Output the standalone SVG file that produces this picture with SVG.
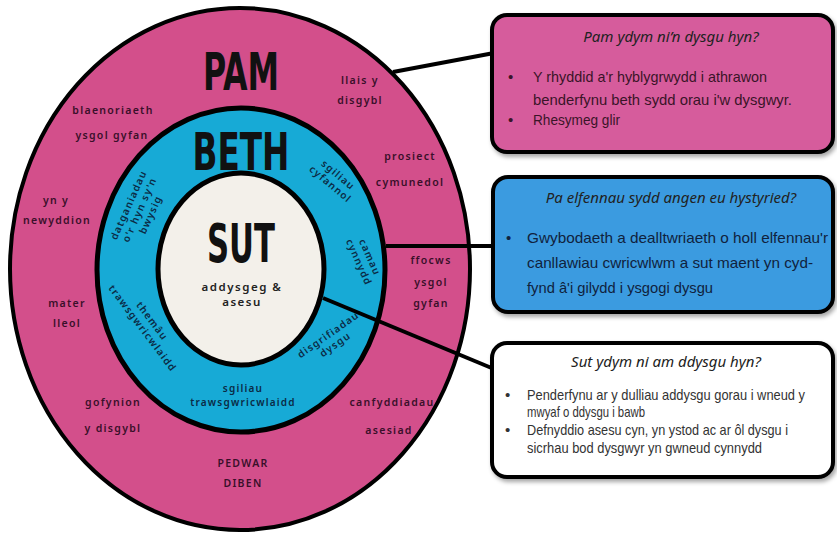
<svg xmlns="http://www.w3.org/2000/svg" width="837" height="533" viewBox="0 0 837 533">
<style>
.big{font-family:"Liberation Sans Narrow","DejaVu Sans Condensed","Liberation Sans",sans-serif;font-weight:bold;fill:#111;text-anchor:middle}
.pk{font-family:"Noto Sans","DejaVu Sans",sans-serif;font-weight:600;font-size:10.5px;letter-spacing:1.3px;fill:#3a0f2a;text-anchor:middle}
.bl{font-family:"Noto Sans","DejaVu Sans",sans-serif;font-weight:600;font-size:10px;letter-spacing:1.2px;fill:#0b2a45;text-anchor:middle}
.cr{font-family:"Noto Sans","DejaVu Sans",sans-serif;font-weight:600;font-size:11.5px;letter-spacing:1.5px;fill:#222;text-anchor:middle}
.ttl{font-family:"Noto Sans","DejaVu Sans",sans-serif;font-style:italic;font-size:15px;fill:#222;text-anchor:middle}
.bt{font-family:"Liberation Sans","Noto Sans",sans-serif;font-size:15px}
.box{stroke:#000;stroke-width:4}
.conn{stroke:#000;stroke-width:4;fill:none}
</style>
<defs>
<filter id="sh" x="-5%" y="-5%" width="112%" height="125%">
<feDropShadow dx="2" dy="3" stdDeviation="2" flood-color="#000" flood-opacity="0.35"/>
</filter>
</defs>
<rect width="837" height="533" fill="#fff"/>

<g id="pam-ring">
<ellipse cx="240" cy="269" rx="230" ry="261" fill="#d34f8b" stroke="#000" stroke-width="4"/>
<text class="big" x="241" y="90" font-size="52" textLength="76" lengthAdjust="spacingAndGlyphs">PAM</text>
<text class="pk" x="360" y="84">llais y</text>
<text class="pk" x="360" y="104">disgybl</text>
<text class="pk" x="113" y="114">blaenoriaeth</text>
<text class="pk" x="112" y="139">ysgol gyfan</text>
<text class="pk" x="410" y="160">prosiect</text>
<text class="pk" x="410" y="186">cymunedol</text>
<text class="pk" x="56" y="204">yn y</text>
<text class="pk" x="57" y="224">newyddion</text>
<text class="pk" x="431" y="264">ffocws</text>
<text class="pk" x="431" y="286">ysgol</text>
<text class="pk" x="431" y="307">gyfan</text>
<text class="pk" x="67" y="307">mater</text>
<text class="pk" x="67" y="327">lleol</text>
<text class="pk" x="113" y="406">gofynion</text>
<text class="pk" x="113" y="432">y disgybl</text>
<text class="pk" x="392" y="406">canfyddiadau</text>
<text class="pk" x="389" y="434">asesiad</text>
<text class="pk" x="243" y="467" font-size="12" letter-spacing="2">PEDWAR</text>
<text class="pk" x="243" y="487" font-size="12" letter-spacing="2">DIBEN</text>
</g>

<g id="beth-ring">
<ellipse cx="241" cy="270" rx="144" ry="162" fill="#17aad6" stroke="#000" stroke-width="5"/>
<text class="big" x="241" y="170" font-size="52" textLength="97" lengthAdjust="spacingAndGlyphs">BETH</text>
<g transform="translate(334,180) rotate(40)">
<text class="bl" x="0" y="-3">sgiliau</text>
<text class="bl" x="0" y="9">cyfannol</text>
</g>
<g transform="translate(364,260) rotate(66)">
<text class="bl" x="0" y="-3">camau</text>
<text class="bl" x="0" y="9">cynnydd</text>
</g>
<g transform="translate(332,340) rotate(-35)">
<text class="bl" x="0" y="-3">disgrifiadau</text>
<text class="bl" x="0" y="9">dysgu</text>
</g>
<text class="bl" x="243" y="392">sgiliau</text>
<text class="bl" x="243" y="406">trawsgwricwlaidd</text>
<g transform="translate(147,325) rotate(53)">
<text class="bl" x="0" y="-3">themâu</text>
<text class="bl" x="0" y="9">trawsgwricwlaidd</text>
</g>
<g transform="translate(140,210) rotate(-66)">
<text class="bl" x="0" y="-9">datganiadau</text>
<text class="bl" x="0" y="3">o'r hyn sy'n</text>
<text class="bl" x="0" y="15">bwysig</text>
</g>
</g>

<g id="sut-core">
<ellipse cx="241" cy="269" rx="83" ry="96" fill="#f3f0ea" stroke="#000" stroke-width="5"/>
<text class="big" x="241" y="262" font-size="54" textLength="68" lengthAdjust="spacingAndGlyphs">SUT</text>
<text class="cr" x="242" y="291">addysgeg &amp;</text>
<text class="cr" x="242" y="306">asesu</text>
</g>

<g id="connectors">
<line class="conn" x1="393" y1="72" x2="494" y2="53"/>
<line class="conn" x1="386" y1="246" x2="494" y2="246"/>
<line class="conn" x1="323" y1="298" x2="494" y2="369"/>
</g>

<g id="box-pam">
<rect class="box" x="492" y="15" width="341" height="137" rx="15" fill="#d65c9c" filter="url(#sh)"/>
<text class="ttl" x="671" y="42">Pam ydym ni’n dysgu hyn?</text>
<g class="bt" fill="#3a1428">
<text x="508" y="82">•</text>
<text x="533" y="82" textLength="234" lengthAdjust="spacingAndGlyphs">Y rhyddid a'r hyblygrwydd i athrawon</text>
<text x="533" y="105" textLength="259" lengthAdjust="spacingAndGlyphs">benderfynu beth sydd orau i'w dysgwyr.</text>
<text x="508" y="125">•</text>
<text x="533" y="125" textLength="87" lengthAdjust="spacingAndGlyphs">Rhesymeg glir</text>
</g>
</g>

<g id="box-beth">
<rect class="box" x="493" y="177" width="340" height="135" rx="15" fill="#3b9be0" filter="url(#sh)"/>
<text class="ttl" x="671" y="203" font-size="16">Pa elfennau sydd angen eu hystyried?</text>
<g class="bt" fill="#10223d" font-size="17">
<text x="506" y="243">•</text>
<text x="527" y="243" textLength="301" lengthAdjust="spacingAndGlyphs">Gwybodaeth a dealltwriaeth o holl elfennau'r</text>
<text x="527" y="268" textLength="286" lengthAdjust="spacingAndGlyphs">canllawiau cwricwlwm a sut maent yn cyd-</text>
<text x="527" y="293" textLength="186" lengthAdjust="spacingAndGlyphs">fynd â'i gilydd i ysgogi dysgu</text>
</g>
</g>

<g id="box-sut">
<rect class="box" x="492" y="343" width="341" height="134" rx="15" fill="#fff" filter="url(#sh)"/>
<text class="ttl" x="666" y="367">Sut ydym ni am ddysgu hyn?</text>
<g class="bt" fill="#333" font-size="12.5">
<text x="505" y="400">•</text>
<text x="527" y="400" textLength="278" lengthAdjust="spacingAndGlyphs">Penderfynu ar y dulliau addysgu gorau i wneud y</text>
<text x="527" y="417" textLength="118" lengthAdjust="spacingAndGlyphs">mwyaf o ddysgu i bawb</text>
<text x="505" y="435">•</text>
<text x="527" y="435" textLength="261" lengthAdjust="spacingAndGlyphs">Defnyddio asesu cyn, yn ystod ac ar ôl dysgu i</text>
<text x="527" y="453" textLength="235" lengthAdjust="spacingAndGlyphs">sicrhau bod dysgwyr yn gwneud cynnydd</text>
</g>
</g>
</svg>
